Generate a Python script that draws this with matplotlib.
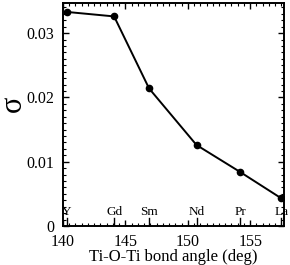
import matplotlib
matplotlib.use("Agg")
import matplotlib.pyplot as plt
from matplotlib.ticker import MultipleLocator

plt.rcParams['font.family'] = ['Liberation Serif', 'DejaVu Serif']

elements = ["Y", "Gd", "Sm", "Nd", "Pr", "La"]
angle = [140.3, 144.1, 146.9, 150.7, 154.2, 157.5]
sigma = [0.0333, 0.0326, 0.0214, 0.0126, 0.0084, 0.0043]

fig = plt.figure(figsize=(2.9, 2.65), dpi=100)
ax = fig.add_axes([0.217, 0.147, 0.762, 0.842])

ax.plot(angle, sigma, "k-", lw=1.4, marker="o", ms=4.5)

# element markers along the bottom axis
for x, name in zip(angle, elements):
    ax.plot([x, x], [0, 0.0013], "k-", lw=1.0)
    ax.text(x, 0.0012, name, ha="center", va="bottom", fontsize=9.5)

ax.set_xlim(140, 157.7)
ax.set_ylim(0, 0.0347)
ax.xaxis.set_major_locator(MultipleLocator(5))
ax.xaxis.set_minor_locator(MultipleLocator(0.5))
ax.yaxis.set_minor_locator(MultipleLocator(0.001))
ax.set_yticks([0, 0.01, 0.02, 0.03])
ax.set_yticklabels(["0", "0.01", "0.02", "0.03"])

ax.tick_params(which="both", direction="in", top=True, right=True, labelsize=11.5)
ax.tick_params(which="major", length=4, width=1)
ax.tick_params(which="minor", length=2, width=0.8)
ax.tick_params(axis="x", pad=6)
ax.tick_params(axis="y", pad=6)
for s in ax.spines.values():
    s.set_linewidth(1.4)

ax.set_xlabel("Ti-O-Ti bond angle (deg)", fontsize=12, labelpad=-1)
ax.set_ylabel("σ", fontsize=22)
ax.yaxis.set_label_coords(-0.158, 0.55)

fig.savefig("out.png", dpi=100)
